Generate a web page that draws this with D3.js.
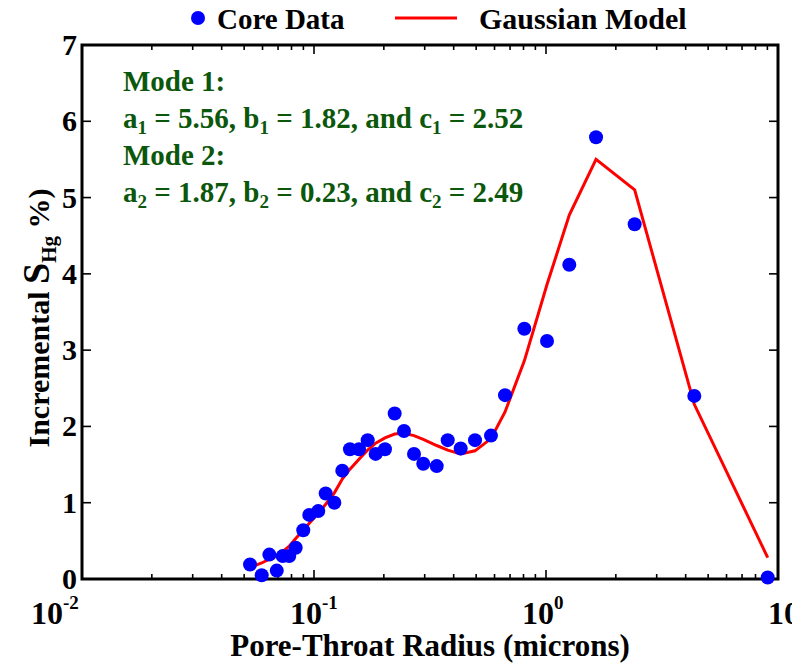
<!DOCTYPE html>
<html>
<head>
<meta charset="utf-8">
<script src="https://cdn.jsdelivr.net/npm/d3@7"></script>
<style>
  body { margin: 0; background: #fff; }
  text { font-family: "Liberation Serif", "Times New Roman", serif; font-weight: bold; }
</style>
</head>
<body>
<script>
/* CONSTANTS AND GLOBALS */
const width = 792,
  height = 665,
  margin = { top: 45, right: 14, bottom: 86, left: 82 };

// pore-throat radius (microns) of each core sample point
const radius = [0.0530, 0.0595, 0.0642, 0.0691, 0.0733, 0.0782, 0.0834, 0.0899, 0.0954, 0.1043,
  0.1123, 0.1224, 0.1324, 0.1429, 0.1563, 0.1704, 0.1844, 0.2023, 0.2227, 0.2443,
  0.2698, 0.2958, 0.3380, 0.3770, 0.4288, 0.4943, 0.5792, 0.6658, 0.8066, 1.01,
  1.260, 1.643, 2.411, 4.357, 9.03];

// measured incremental mercury saturation (%)
const coreSat = [0.19, 0.05, 0.32, 0.11, 0.30, 0.30, 0.41, 0.64, 0.84, 0.89,
  1.12, 1.00, 1.42, 1.70, 1.70, 1.82, 1.64, 1.70, 2.17, 1.94,
  1.64, 1.51, 1.48, 1.82, 1.71, 1.82, 1.88, 2.41, 3.28, 3.12,
  4.12, 5.79, 4.65, 2.40, 0.02];

// bimodal gaussian fit evaluated at the same radii
const modelSat = [0.15, 0.21, 0.26, 0.30, 0.36, 0.43, 0.53, 0.64, 0.73, 0.86,
  0.98, 1.13, 1.31, 1.44, 1.57, 1.69, 1.78, 1.85, 1.90, 1.91,
  1.88, 1.83, 1.75, 1.69, 1.64, 1.68, 1.84, 2.19, 2.86, 3.86,
  4.77, 5.50, 5.10, 2.29, 0.28];

const xMajorExp = [-2, -1, 0, 1];
const yTicks = [0, 1, 2, 3, 4, 5, 6, 7];

// fitted parameters for the two modes
const modes = [
  { n: "1", a: "5.56", b: "1.82", c: "2.52" },
  { n: "2", a: "1.87", b: "0.23", c: "2.49" }
];

const green = "#0b570b";

const svg = d3.select("body")
  .append("svg")
  .attr("width", width)
  .attr("height", height);

const xScale = d3.scaleLog()
  .domain([0.01, 10])
  .range([margin.left, width - margin.right]);

const yScale = d3.scaleLinear()
  .domain([0, 7])
  .range([height - margin.bottom, margin.top]);

const x0 = margin.left, x1 = width - margin.right;
const y0 = height - margin.bottom, y1 = margin.top;

// log ticks: decades get long ticks, the rest short ones
const xTicks = xScale.ticks();
const isMajor = d => Math.abs(Math.log10(d) - Math.round(Math.log10(d))) < 1e-6;

const tickG = svg.append("g").attr("stroke", "#000").attr("stroke-width", 1.6);
xTicks.forEach(t => {
  const len = isMajor(t) ? 9 : 5;
  const px = xScale(t);
  tickG.append("line").attr("x1", px).attr("x2", px).attr("y1", y0).attr("y2", y0 - len);
  tickG.append("line").attr("x1", px).attr("x2", px).attr("y1", y1).attr("y2", y1 + len);
});
yTicks.forEach(t => {
  const py = yScale(t);
  tickG.append("line").attr("x1", x0).attr("x2", x0 + 9).attr("y1", py).attr("y2", py);
  tickG.append("line").attr("x1", x1).attr("x2", x1 - 9).attr("y1", py).attr("y2", py);
});

// box around the plot
svg.append("rect")
  .attr("x", x0).attr("y", y1)
  .attr("width", x1 - x0).attr("height", y0 - y1)
  .attr("fill", "none")
  .attr("stroke", "#000")
  .attr("stroke-width", 3);

// y tick labels
svg.append("g")
  .selectAll("text")
  .data(yTicks)
  .enter()
  .append("text")
  .attr("x", 77)
  .attr("y", d => yScale(d) + 10)
  .attr("font-size", 30)
  .attr("text-anchor", "end")
  .text(d => d);

// x tick labels as powers of ten; the end labels sit a little off their ticks
const labelShift = e => e === -2 ? -51 : e === 1 ? -10 : -24;
const xLab = svg.append("g")
  .selectAll("text")
  .data(xMajorExp)
  .enter()
  .append("text")
  .attr("x", d => xScale(Math.pow(10, d)) + labelShift(d))
  .attr("y", 624)
  .attr("font-size", 32);
xLab.append("tspan").text("10");
xLab.append("tspan")
  .attr("dy", -15)
  .attr("font-size", 19)
  .text(d => d);

// axis titles
svg.append("text")
  .attr("x", 430)
  .attr("y", 656)
  .attr("text-anchor", "middle")
  .attr("font-size", 31)
  .text("Pore-Throat Radius (microns)");

const yTitle = svg.append("text")
  .attr("transform", "translate(49, 318) rotate(-90)")
  .attr("text-anchor", "middle")
  .attr("font-size", 30);
yTitle.append("tspan").text("Incremental ");
yTitle.append("tspan").attr("font-size", 38).text("S");
yTitle.append("tspan").attr("font-size", 21).attr("dy", 7).text("Hg");
yTitle.append("tspan").attr("dy", -7).text("   %)");

// model curve
const line = d3.line()
  .x((d, i) => xScale(radius[i]))
  .y(d => yScale(d));

svg.append("path")
  .datum(modelSat)
  .attr("d", line)
  .attr("fill", "none")
  .attr("stroke", "#ff0000")
  .attr("stroke-width", 3);

// core data points
svg.append("g")
  .selectAll("circle")
  .data(coreSat)
  .enter()
  .append("circle")
  .attr("cx", (d, i) => xScale(radius[i]))
  .attr("cy", d => yScale(d))
  .attr("r", 7)
  .attr("fill", "#0000ff");

// fitted parameters
modes.forEach((m, k) => {
  const top = 91 + k * 74;
  svg.append("text")
    .attr("x", 123).attr("y", top)
    .attr("font-size", 29)
    .attr("fill", green)
    .text(`Mode ${m.n}:`);
  const t = svg.append("text")
    .attr("x", 123).attr("y", top + 37)
    .attr("font-size", 29)
    .attr("fill", green);
  [["a", m.a + ", "], ["b", m.b + ", and "], ["c", m.c]].forEach(([sym, rest]) => {
    t.append("tspan").text(sym);
    t.append("tspan").attr("font-size", 19).attr("dy", 6).text(m.n);
    t.append("tspan").attr("dy", -6).text(" = " + rest);
  });
});

// legend
const legend = svg.append("g");
legend.append("circle")
  .attr("cx", 198).attr("cy", 18).attr("r", 7)
  .attr("fill", "#0000ff");
legend.append("text")
  .attr("x", 217).attr("y", 29)
  .attr("font-size", 29)
  .text("Core Data");
legend.append("line")
  .attr("x1", 395).attr("x2", 457)
  .attr("y1", 18).attr("y2", 18)
  .attr("stroke", "#ff0000")
  .attr("stroke-width", 3);
legend.append("text")
  .attr("x", 479).attr("y", 29)
  .attr("font-size", 30)
  .text("Gaussian Model");
</script>
</body>
</html>
